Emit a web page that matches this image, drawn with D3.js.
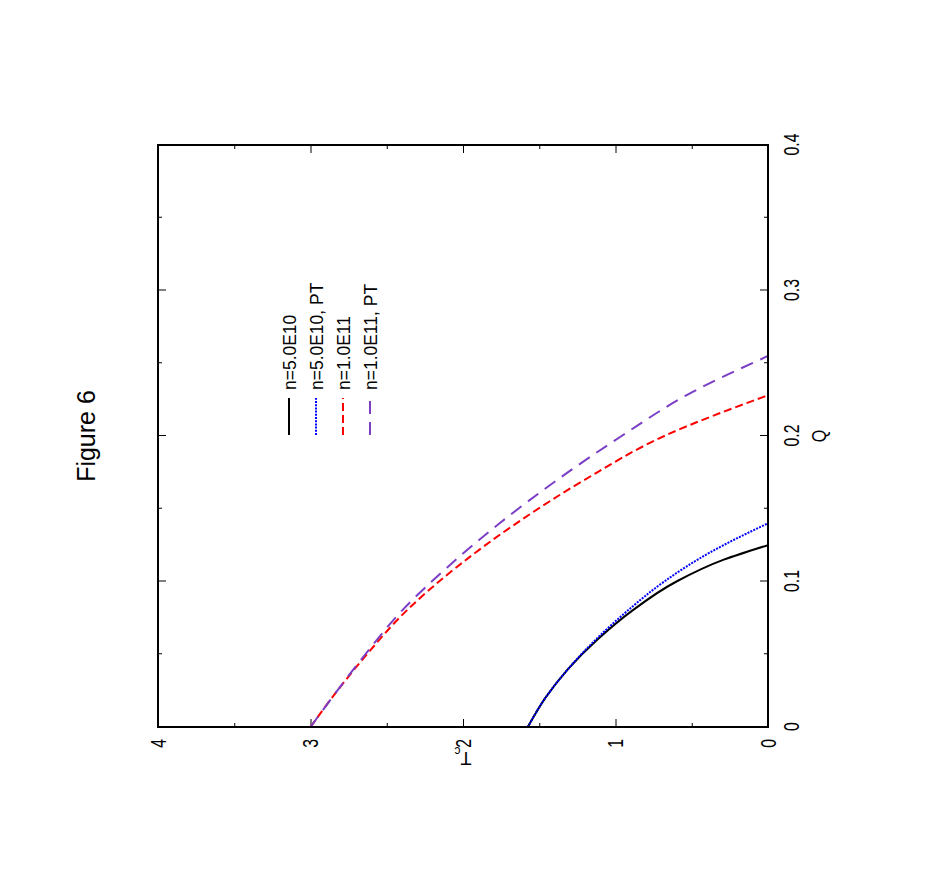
<!DOCTYPE html>
<html>
<head>
<meta charset="utf-8">
<script src="https://cdn.jsdelivr.net/npm/d3@7"></script>
<style>
body { margin: 0; background: #fff; }
text { font-family: "Liberation Sans", Arial, sans-serif; }
</style>
</head>
<body>
<div id="chart"></div>
<script>
// data (Q on the horizontal axis, Tc^2 on the vertical one)
var qTicks = [0, 0.1, 0.2, 0.3, 0.4];
var qMinor = [0.05, 0.15, 0.25, 0.35];
var t2Ticks = [0, 1, 2, 3, 4];
var t2Minor = [0.5, 1.5, 2.5, 3.5];

var seriesNames = ["n=5.0E10", "n=5.0E10, PT", "n=1.0E11", "n=1.0E11, PT"];

var q_n5 = [0, 0.02, 0.04, 0.06, 0.08, 0.10, 0.115, 0.125];
var t2_n5 = [1.575, 1.46, 1.31, 1.12, 0.89, 0.60, 0.29, 0];

var q_n5pt = [0, 0.02, 0.04, 0.06, 0.08, 0.10, 0.12, 0.14];
var t2_n5pt = [1.575, 1.46, 1.31, 1.13, 0.92, 0.68, 0.38, 0];

var q_n11 = [0, 0.02, 0.05, 0.08, 0.11, 0.14, 0.17, 0.20, 0.228];
var t2_n11 = [3.0, 2.86, 2.63, 2.37, 2.04, 1.65, 1.20, 0.68, 0];

var q_n11pt = [0, 0.02, 0.05, 0.08, 0.11, 0.14, 0.17, 0.20, 0.23, 0.255];
var t2_n11pt = [3.0, 2.86, 2.64, 2.40, 2.10, 1.76, 1.38, 0.96, 0.50, 0];

var seriesQ = [q_n5, q_n5pt, q_n11, q_n11pt];
var seriesT2 = [t2_n5, t2_n5pt, t2_n11, t2_n11pt];
var seriesColors = ["#000000", "#0000ff", "#ff0000", "#7b3fc6"];
var seriesDash = [null, "2,1.2", "8,4", "13,8"];

var width = 926,
    height = 872;

// the whole figure is printed turned a quarter turn to the left
var pw = 582,
    ph = 610;

var svg = d3.select("#chart")
    .append("svg")
    .attr("width", width)
    .attr("height", height);

var g = svg.append("g")
    .attr("transform", "translate(158,727) rotate(-90)");

var x = d3.scaleLinear().domain([0, 0.4]).range([0, pw]);
var y = d3.scaleLinear().domain([0, 4]).range([ph, 0]);

var cond = 0.72;   // tick labels are narrow

function styleAxis(sel) {
    sel.select(".domain").remove();
    sel.selectAll("line").attr("stroke", "#000").attr("stroke-width", 1);
    sel.selectAll("text").style("font-size", "22px").attr("fill", "#000");
}

// major ticks + labels
var bottom = g.append("g")
    .attr("transform", "translate(0," + ph + ")")
    .call(d3.axisBottom(x).tickValues(qTicks).tickSize(-8).tickPadding(15)
        .tickFormat(function (d) { return d === 0 ? "0" : d3.format(".1f")(d); }));
styleAxis(bottom);
bottom.selectAll("text").attr("transform", "scale(" + cond + ",1)");

var left = g.append("g")
    .call(d3.axisLeft(y).tickValues(t2Ticks).tickSize(-8).tickPadding(12).tickFormat(d3.format("d")));
styleAxis(left);
left.selectAll("text").attr("transform", "scale(" + cond + ",1)").attr("x", -12 / cond);

// mirrored ticks and minor ticks
g.append("g").call(d3.axisTop(x).tickValues(qTicks).tickSize(-8).tickFormat("")).call(styleAxis);
g.append("g").attr("transform", "translate(" + pw + ",0)")
    .call(d3.axisRight(y).tickValues(t2Ticks).tickSize(-8).tickFormat("")).call(styleAxis);
g.append("g").attr("transform", "translate(0," + ph + ")")
    .call(d3.axisBottom(x).tickValues(qMinor).tickSize(-4).tickFormat("")).call(styleAxis);
g.append("g").call(d3.axisTop(x).tickValues(qMinor).tickSize(-4).tickFormat("")).call(styleAxis);
g.append("g").call(d3.axisLeft(y).tickValues(t2Minor).tickSize(-4).tickFormat("")).call(styleAxis);
g.append("g").attr("transform", "translate(" + pw + ",0)")
    .call(d3.axisRight(y).tickValues(t2Minor).tickSize(-4).tickFormat("")).call(styleAxis);

// curves
g.append("clipPath").attr("id", "clip")
    .append("rect").attr("width", pw).attr("height", ph);

var line = d3.line()
    .x(function (d) { return x(d[0]); })
    .y(function (d) { return y(d[1]); })
    .curve(d3.curveMonotoneX);

seriesNames.forEach(function (name, i) {
    var pts = seriesQ[i].map(function (q, j) { return [q, seriesT2[i][j]]; });
    g.append("path")
        .datum(pts)
        .attr("clip-path", "url(#clip)")
        .attr("d", line)
        .attr("fill", "none")
        .attr("stroke", seriesColors[i])
        .attr("stroke-width", 2)
        .attr("stroke-dasharray", seriesDash[i]);
});

// frame
g.append("rect")
    .attr("width", pw).attr("height", ph)
    .attr("fill", "none").attr("stroke", "#000").attr("stroke-width", 2);

// key
var legend = g.append("g").attr("transform", "translate(292,131)");
seriesNames.forEach(function (name, i) {
    legend.append("line")
        .attr("x1", 0).attr("x2", 37)
        .attr("y1", i * 27).attr("y2", i * 27)
        .attr("stroke", seriesColors[i])
        .attr("stroke-width", 2)
        .attr("stroke-dasharray", seriesDash[i]);
    legend.append("text")
        .attr("transform", "translate(45," + (i * 27) + ") scale(0.92,1)")
        .attr("dy", "0.35em")
        .style("font-size", "19px")
        .text(name);
});

// titles
g.append("text")
    .attr("x", pw / 2).attr("y", -63)
    .attr("text-anchor", "middle")
    .style("font-size", "25px")
    .text("Figure 6");

g.append("text")
    .attr("transform", "translate(" + (pw / 2) + ",668) scale(0.8,1)")
    .attr("text-anchor", "middle")
    .style("font-size", "20px")
    .text("Q");

var yl = g.append("text")
    .attr("transform", "translate(-25," + (ph / 2) + ") rotate(-90)")
    .attr("text-anchor", "middle")
    .style("font-size", "18px");
yl.append("tspan").text("T");
yl.append("tspan").attr("dy", 5).style("font-size", "12px").text("c");
</script>
</body>
</html>
